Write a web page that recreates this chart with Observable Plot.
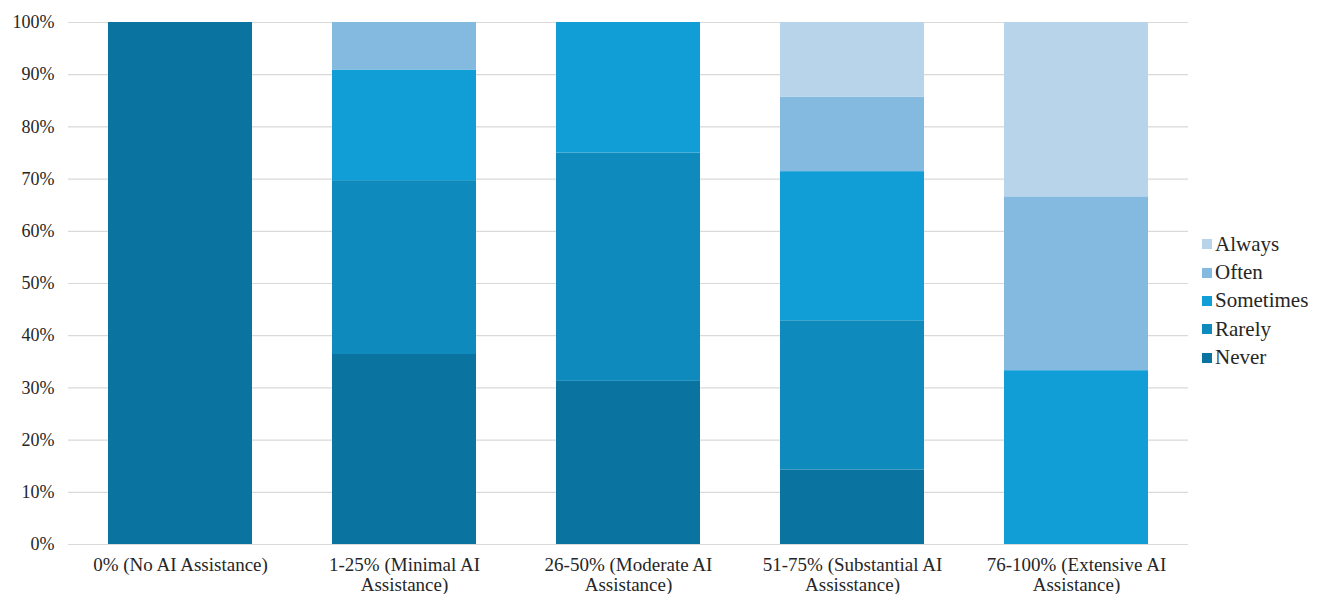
<!DOCTYPE html>
<html>
<head>
<meta charset="utf-8">
<script src="https://cdn.jsdelivr.net/npm/d3@7"></script>
<script src="https://cdn.jsdelivr.net/npm/@observablehq/plot@0.6"></script>
<style>
  html, body { margin: 0; padding: 0; background: #fff; }
  #wrap { position: relative; width: 1328px; height: 594px; overflow: hidden; font-family: "Liberation Serif", "Times New Roman", Times, "DejaVu Serif", serif; }
  #wrap svg, #wrap svg text { font-family: "Liberation Serif", "Times New Roman", Times, "DejaVu Serif", serif !important; }
  #legend { position: absolute; left: 1202px; top: 230px; }
  .row { display: flex; align-items: center; height: 28.4px; font-size: 21px; color: #262626; }
  .sw { width: 10px; height: 10px; margin-right: 3px; }
</style>
</head>
<body>
<div id="wrap"><div id="legend"></div></div>
<script>
// AI assistance level groups (x axis)
const groups = [
  "0% (No AI Assistance)",
  "1-25% (Minimal AI Assistance)",
  "26-50% (Moderate AI Assistance)",
  "51-75% (Substantial AI Assisstance)",
  "76-100% (Extensive AI Assistance)"
];
// Axis labels, wrapped onto two lines
const groupLabels = [
  "0% (No AI Assistance)",
  "1-25% (Minimal AI\nAssistance)",
  "26-50% (Moderate AI\nAssistance)",
  "51-75% (Substantial AI\nAssisstance)",
  "76-100% (Extensive AI\nAssistance)"
];
// Response frequencies, bottom to top of each stack
const responses = ["Never", "Rarely", "Sometimes", "Often", "Always"];
const colors = ["#0b73a0", "#0e8abd", "#119ed6", "#85bae0", "#b8d4eb"];

// Share of respondents (%) per group, one array per response
const never     = [100, 36.4, 31.25, 14.3, 0];
const rarely    = [0,   33.3, 43.75, 28.6, 0];
const sometimes = [0,   21.2, 25.0,  28.6, 33.3];
const often     = [0,    9.1,  0,    14.3, 33.3];
const always    = [0,    0,    0,    14.3, 33.4];

const yTicks = d3.range(0, 1.0001, 0.1);

const series = [never, rarely, sometimes, often, always];
const rows = [];
responses.forEach((r, i) => {
  groups.forEach((g, j) => rows.push({group: g, response: r, value: series[i][j]}));
});

const chart = Plot.plot({
  width: 1328,
  height: 594,
  marginLeft: 68,
  marginRight: 140,
  marginTop: 22,
  marginBottom: 50,
  style: "font-family: 'Liberation Serif', 'Times New Roman', 'DejaVu Serif', serif; font-size: 18px; color: #262626; background: #fff;",
  x: {domain: groups, paddingInner: 0.357, paddingOuter: 0.1785, label: null},
  y: {domain: [0, 1], label: null},
  color: {domain: responses, range: colors},
  marks: [
    Plot.gridY(yTicks, {stroke: "#d9d9d9", strokeOpacity: 1, strokeWidth: 1.2}),
    Plot.barY(rows, Plot.stackY({
      x: "group", y: "value", fill: "response", z: "response",
      order: responses, offset: "normalize"
    })),
    Plot.axisY(yTicks, {tickSize: 0, tickPadding: 14, tickFormat: d3.format(".0%"), fontSize: 18, label: null}),
    Plot.axisX({tickSize: 0, tickPadding: 12, fontSize: 19, lineHeight: 1.05, label: null,
      tickFormat: d => groupLabels[groups.indexOf(d)]})
  ]
});

const wrap = document.getElementById("wrap");
wrap.insertBefore(chart, wrap.firstChild);

// Legend, top entry is the top of the stack
const legend = document.getElementById("legend");
responses.slice().reverse().forEach(r => {
  const row = document.createElement("div");
  row.className = "row";
  const sw = document.createElement("div");
  sw.className = "sw";
  sw.style.background = colors[responses.indexOf(r)];
  const t = document.createElement("span");
  t.textContent = r;
  row.appendChild(sw);
  row.appendChild(t);
  legend.appendChild(row);
});
</script>
</body>
</html>
